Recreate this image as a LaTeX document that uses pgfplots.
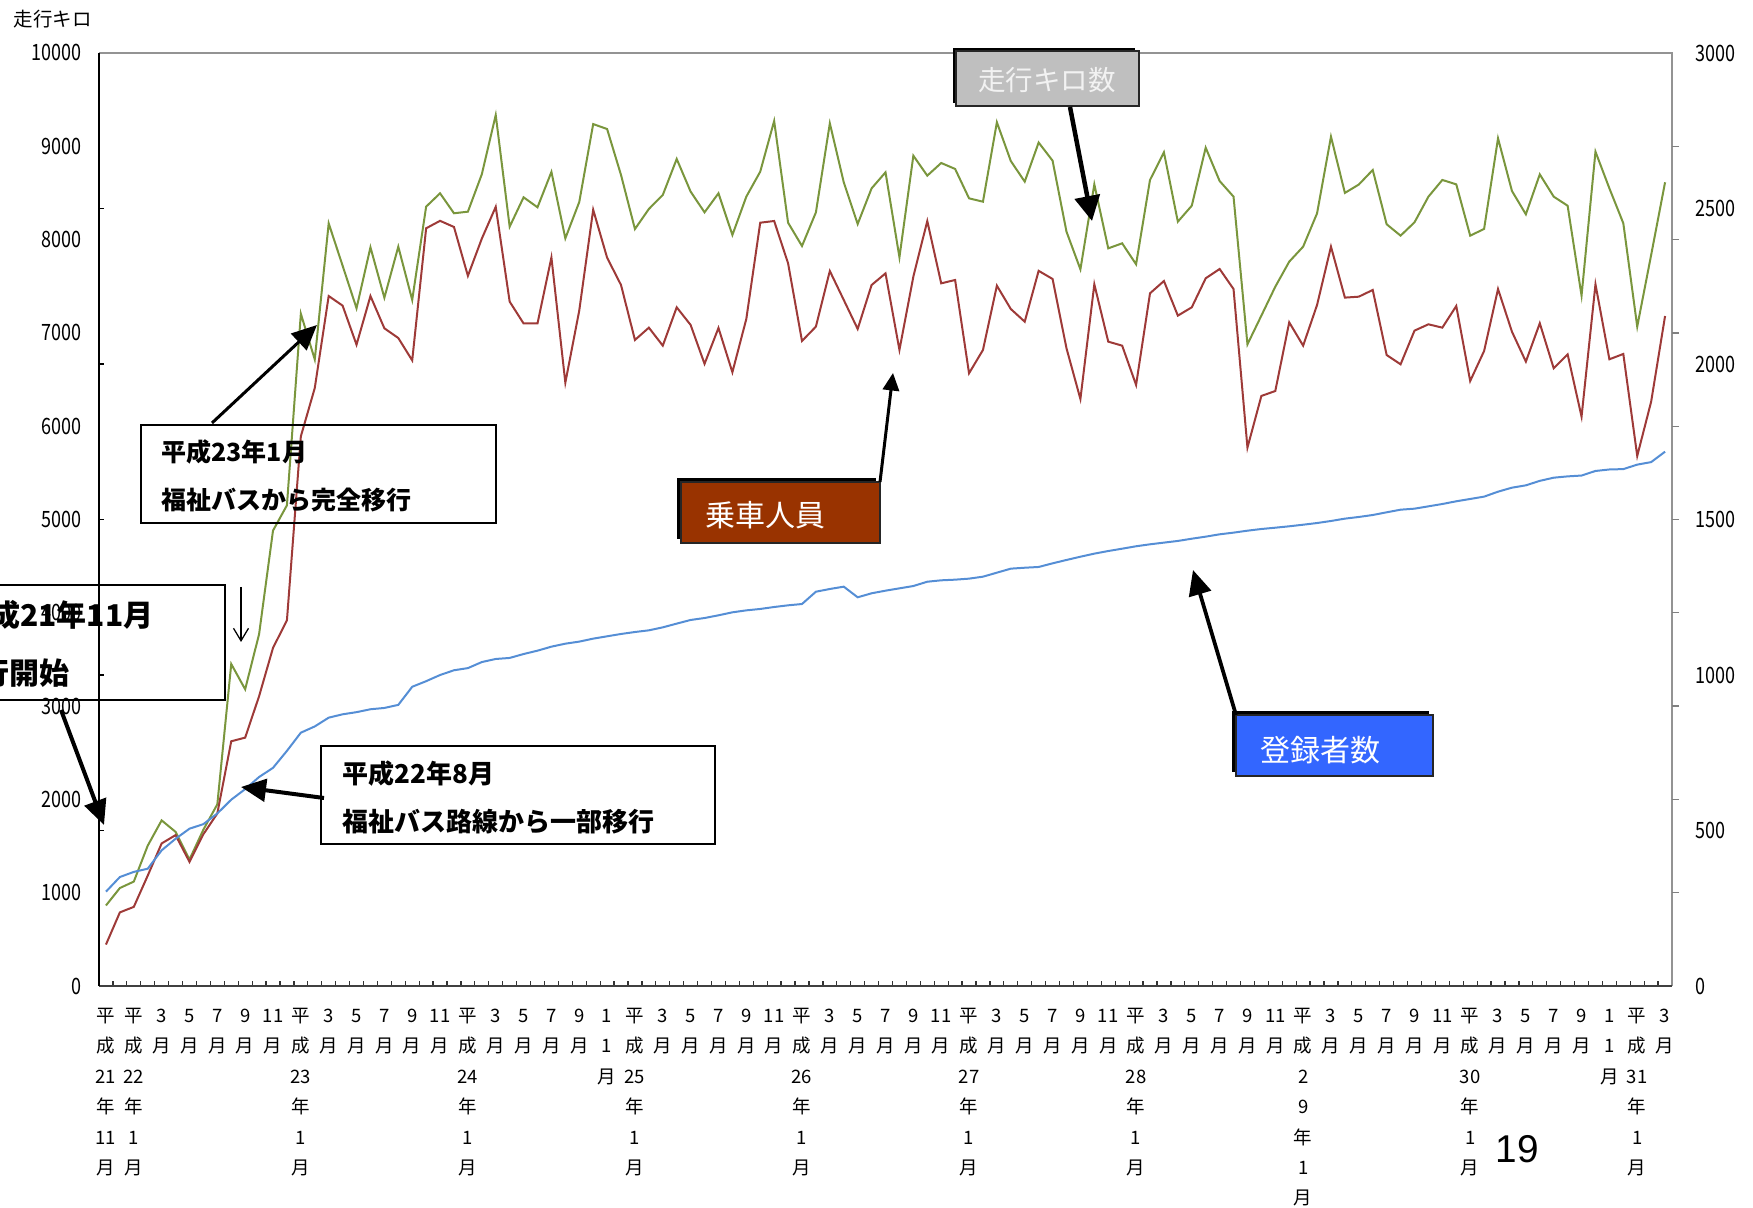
\documentclass[border=0pt]{standalone}
\usepackage{fontspec}
\setmainfont{Noto Sans CJK JP}
\newfontfamily\arial{Liberation Sans}
\usepackage{pgfplots}
\pgfplotsset{compat=1.18}
\usepackage{pgfplotstable}
\usetikzlibrary{arrows.meta}

\definecolor{kmgreen}{HTML}{7A963D}
\definecolor{riderred}{HTML}{9E3A38}
\definecolor{regblue}{HTML}{558ED5}
\definecolor{boxgray}{HTML}{BFBFBF}
\definecolor{boxbrown}{HTML}{993300}
\definecolor{boxblue}{HTML}{3366FF}

% monthly series, H21/11 (m=0) to H31/3 (m=112)
% g: 走行キロ数, r: 乗車人員, b: 登録者数 (left-axis units)
\pgfplotstableread{
m g r b
0 863 444 1011
1 1050 789 1168
2 1119 848 1223
3 1504 1183 1257
4 1775 1528 1454
5 1652 1617 1578
6 1356 1331 1686
7 1676 1627 1735
8 1947 1849 1849
9 3451 2623 1997
10 3180 2662 2110
11 3771 3106 2240
12 4881 3624 2338
13 5152 3919 2520
14 7205 5891 2715
15 6715 6409 2782
16 8174 7395 2876
17 7720 7292 2912
18 7264 6873 2935
19 7917 7395 2966
20 7377 7049 2980
21 7924 6945 3013
22 7353 6705 3207
23 8353 8121 3267
24 8496 8201 3333
25 8282 8135 3384
26 8299 7611 3407
27 8700 8010 3472
28 9335 8351 3505
29 8138 7335 3516
30 8453 7101 3558
31 8346 7101 3594
32 8725 7808 3637
33 8013 6466 3669
34 8403 7240 3691
35 9238 8320 3723
36 9185 7806 3748
37 8692 7513 3773
38 8113 6924 3794
39 8328 7056 3812
40 8478 6863 3844
41 8864 7274 3884
42 8514 7085 3923
43 8292 6668 3944
44 8496 7053 3973
45 8049 6578 4005
46 8460 7149 4026
47 8728 8181 4041
48 9271 8199 4062
49 8181 7746 4080
50 7931 6913 4094
51 8292 7067 4226
52 9246 7663 4255
53 8614 7353 4280
54 8167 7042 4166
55 8549 7513 4209
56 8721 7638 4237
57 7810 6817 4262
58 8899 7603 4287
59 8685 8199 4333
60 8821 7531 4348
61 8757 7567 4355
62 8442 6567 4366
63 8406 6817 4387
64 9257 7506 4430
65 8842 7256 4473
66 8621 7120 4483
67 9040 7665 4491
68 8846 7578 4530
69 8085 6835 4566
70 7681 6291 4601
71 8592 7521 4634
72 7906 6906 4662
73 7960 6863 4687
74 7735 6442 4713
75 8639 7424 4734
76 8935 7556 4752
77 8192 7185 4770
78 8363 7274 4794
79 8985 7585 4816
80 8628 7685 4841
81 8460 7470 4859
82 6877 5770 4880
83 7185 6324 4898
84 7495 6377 4912
85 7763 7113 4927
86 7924 6863 4944
87 8281 7299 4962
88 9103 7924 4984
89 8500 7378 5009
90 8590 7388 5027
91 8746 7460 5048
92 8164 6763 5077
93 8042 6663 5105
94 8185 7024 5116
95 8460 7092 5141
96 8639 7056 5166
97 8592 7288 5195
98 8042 6484 5220
99 8114 6806 5245
100 9085 7470 5298
101 8521 7013 5341
102 8271 6692 5366
103 8699 7103 5414
104 8460 6620 5448
105 8363 6770 5462
106 7399 6102 5471
107 8942 7521 5520
108 8549 6717 5536
109 8175 6774 5540
110 7067 5681 5588
111 7835 6263 5615
112 8614 7181 5727
}\monthly

% vertical month labels
\newcommand{\fr}{\rule{0pt}{6.6pt}}
\newcommand{\mo}[1]{\fr#1\\月}
\newcommand{\yr}[1]{\fr 平\\成\\#1\\年\\1\\月}

\begin{document}
\begin{tikzpicture}[x=0.4pt,y=0.4pt]
\path[use as bounding box] (0,0) rectangle (1753,1207);
\clip (0,0) rectangle (1753,1207);

\begin{axis}[
  at={(39.6pt,88.4pt)}, anchor=south west,
  scale only axis, width=629.2pt, height=373.2pt,
  xmin=-0.5, xmax=112.5, ymin=0, ymax=10000,
  clip=false,
  axis line style={draw=none},
  scaled y ticks=false,
  /pgf/number format/assume math mode=true,
  /pgf/number format/1000 sep={},
  xtick={0,2,...,112},
  xticklabels={
    {\fr 平\\成\\21\\年\\11\\月}, {\yr{22}},
    {\mo{3}},{\mo{5}},{\mo{7}},{\mo{9}},{\mo{11}}, {\yr{23}},
    {\mo{3}},{\mo{5}},{\mo{7}},{\mo{9}},{\mo{11}}, {\yr{24}},
    {\mo{3}},{\mo{5}},{\mo{7}},{\mo{9}},{\fr 1\\1\\月}, {\yr{25}},
    {\mo{3}},{\mo{5}},{\mo{7}},{\mo{9}},{\mo{11}}, {\yr{26}},
    {\mo{3}},{\mo{5}},{\mo{7}},{\mo{9}},{\mo{11}}, {\yr{27}},
    {\mo{3}},{\mo{5}},{\mo{7}},{\mo{9}},{\mo{11}}, {\yr{28}},
    {\mo{3}},{\mo{5}},{\mo{7}},{\mo{9}},{\mo{11}}, {\fr 平\\成\\2\\9\\年\\1\\月},
    {\mo{3}},{\mo{5}},{\mo{7}},{\mo{9}},{\mo{11}}, {\yr{30}},
    {\mo{3}},{\mo{5}},{\mo{7}},{\mo{9}},{\fr 1\\1\\月}, {\yr{31}},
    {\mo{3}}},
  xticklabel style={font=\fontsize{7.4}{12.16}\selectfont, align=center,
    anchor=north, inner sep=0pt},
  xticklabel shift=7.8pt,
  minor xtick={0.5,1.5,...,111.5},
  xtick pos=bottom, ytick pos=left,
  tick align=inside,
  major x tick style={draw=none},
  minor x tick style={draw=black!80, line width=0.5pt},
  minor tick length=2pt,
  ytick={0,1000,...,10000},
  major tick length=2.2pt,
  major y tick style={draw=none},
  extra y ticks={1666.667,3333.333,5000,6666.667,8333.333},
  extra y tick labels={},
  extra y tick style={major y tick style={draw=black, line width=0.5pt}},
  yticklabel style={font=\fontsize{9}{9}\selectfont, xscale=0.8, inner sep=0pt},
  yticklabel shift=6.8pt,
]
\addplot[kmgreen, line width=0.8pt] table[x=m, y=g]{\monthly};
\addplot[riderred, line width=0.8pt] table[x=m, y=r]{\monthly};
\addplot[regblue, line width=0.8pt] table[x=m, y=b]{\monthly};
\draw[gray!85, line width=0.6pt] (rel axis cs:0,1) -- (rel axis cs:1,1) -- (rel axis cs:1,0);
\draw[black!75, line width=0.6pt] (rel axis cs:0,0) -- (rel axis cs:1,0);
\draw[black, line width=0.6pt] (rel axis cs:0,0) -- (rel axis cs:0,1);
\end{axis}

% right-hand scale
\begin{axis}[
  at={(39.6pt,88.4pt)}, anchor=south west,
  scale only axis, width=629.2pt, height=373.2pt,
  xmin=-0.5, xmax=112.5, ymin=0, ymax=3000,
  axis line style={draw=none},
  xtick=\empty,
  scaled y ticks=false,
  /pgf/number format/assume math mode=true,
  /pgf/number format/1000 sep={},
  ytick={0,500,...,3000},
  ytick pos=right, yticklabel pos=right,
  tick align=outside,
  major tick length=2.8pt,
  major y tick style={draw=none},
  extra y ticks={300,600,...,2700},
  extra y tick labels={},
  extra y tick style={major y tick style={draw=gray, line width=0.5pt}},
  yticklabel style={font=\fontsize{9}{9}\selectfont, xscale=0.8, inner sep=0pt},
  yticklabel shift=6.4pt,
]
\end{axis}

\begin{scope}[shift={(0,1207)}, yscale=-1]
  % axis caption
  \node[anchor=west, inner sep=0pt, font=\fontsize{7.8}{7.8}\selectfont] at (13,19) {走行キロ};

  % 平成21年11月 運行開始
  \draw[black, line width=0.8pt] (-10,585) rectangle (225,700);
  \node[anchor=east, inner sep=0pt, font=\bfseries\fontsize{12}{12}\selectfont] at (154,615) {平成21年11月};
  \node[anchor=east, inner sep=0pt, font=\bfseries\fontsize{12}{12}\selectfont] at (70,673) {運行開始};
  \draw[line width=1.6pt, -{Triangle[length=10pt,width=9pt]}] (61,710) -- (104,825);
  \draw[line width=0.5pt, -{Straight Barb[length=5pt,width=6pt]}] (241,587) -- (241,642);

  % 平成23年1月
  \draw[black, line width=0.8pt] (141,425) rectangle (496,523);
  \node[anchor=west, inner sep=0pt, font=\bfseries\fontsize{10}{10}\selectfont] at (161,452) {平成23年1月};
  \node[anchor=west, inner sep=0pt, font=\bfseries\fontsize{10}{10}\selectfont] at (161,500) {福祉バスから完全移行};
  \draw[line width=1.2pt, -{Triangle[length=10pt,width=9pt]}] (212,423) -- (317,325);

  % 平成22年8月
  \draw[black, line width=0.8pt] (321,746) rectangle (715,844);
  \node[anchor=west, inner sep=0pt, font=\bfseries\fontsize{10.4}{10.4}\selectfont] at (342,774) {平成22年8月};
  \node[anchor=west, inner sep=0pt, font=\bfseries\fontsize{10.4}{10.4}\selectfont] at (342,822) {福祉バス路線から一部移行};
  \draw[line width=1.6pt, -{Triangle[length=10pt,width=9pt]}] (324,798) -- (241,787);

  % series callouts
  \fill[black] (953,48) rectangle (1135,103);
  \draw[fill=boxgray, draw=black!85, line width=0.6pt] (956,51) rectangle (1139,106);
  \node[text=white!95!black, font=\fontsize{11}{11}\selectfont] at (1047,80) {走行キロ数};
  \draw[line width=1.8pt, -{Triangle[length=10pt,width=10pt]}] (1070,107) -- (1092,221);

  \fill[black] (677,478) rectangle (876,539);
  \draw[fill=boxbrown, draw=black!85, line width=0.6pt] (681,482) rectangle (880,543);
  \node[text=white, font=\fontsize{12}{12}\selectfont] at (765,515) {乗車人員};
  \draw[line width=1.2pt, -{Triangle[length=7pt,width=6.5pt]}] (880,482) -- (893,373);

  \fill[black] (1232,711) rectangle (1429,772);
  \draw[fill=boxblue, draw=black!85, line width=0.6pt] (1236,715) rectangle (1433,776);
  \node[text=white, font=\fontsize{12}{12}\selectfont] at (1320,750) {登録者数};
  \draw[line width=1.5pt, -{Triangle[length=10pt,width=9pt]}] (1236,715) -- (1193,570);

  % page number
  \node[font=\arial\fontsize{15.5}{15.5}\selectfont] at (1517,1149) {19};
\end{scope}
\end{tikzpicture}
\end{document}
